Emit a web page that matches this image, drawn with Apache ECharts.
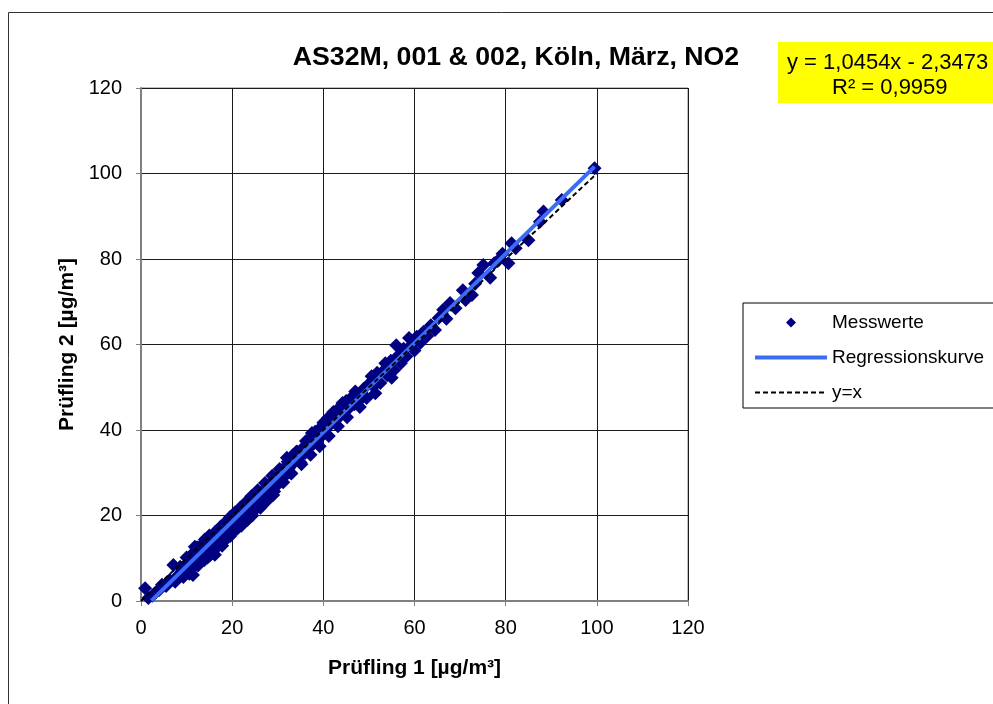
<!DOCTYPE html>
<html lang="de">
<head>
    <meta charset="UTF-8">
    <title>AS32M, 001 &amp; 002, Köln, März, NO2</title>
    <script src="https://cdn.jsdelivr.net/npm/echarts@6/dist/echarts.min.js"></script>
    <style type="text/css">
        html, body { margin: 0; padding: 0; background: #fff; }
        #chart { width: 993px; height: 704px; }
    </style>
</head>
<body>
<div id="chart"></div>
<script type="text/javascript">
    var messX = [0.9, 1.6, 2.5, 3.2, 4.0, 4.6, 5.5, 6.3, 7.1, 7.5, 8.2, 9.0, 9.6, 10.3, 10.8, 11.4, 11.8, 12.1, 12.5, 12.9,
        13.2, 13.6, 13.9, 14.2, 14.5, 14.8, 15.1, 15.4, 15.7, 16.0, 16.2, 16.5, 16.8, 17.1, 17.3, 17.6, 17.9, 18.2, 18.5, 18.7,
        19.0, 19.3, 19.6, 19.9, 20.2, 20.5, 20.8, 21.1, 21.4, 21.7, 22.0, 22.3, 22.6, 22.9, 23.2, 23.5, 23.8, 24.1, 24.4, 24.7,
        25.0, 25.4, 25.8, 26.2, 26.6, 27.0, 27.4, 27.8, 28.2, 28.6, 29.0, 29.4, 29.8, 30.2, 30.6, 31.0, 31.5, 32.0, 32.4, 32.8,
        33.3, 33.7, 34.2, 34.6, 35.0, 35.5, 36.0, 36.5, 37.0, 37.5, 38.0, 38.5, 39.0, 39.5, 40.0, 40.5, 41.0, 41.5, 42.0, 42.5,
        43.0, 43.5, 44.0, 44.5, 45.0, 45.5, 46.0, 46.8, 47.5, 48.2, 48.8, 49.5, 50.2, 51.0, 51.8, 52.5, 53.3, 54.0, 54.8, 55.5,
        56.0, 56.5, 57.0, 57.6, 58.2, 58.8, 59.4, 60.0, 60.5, 61.3, 62.0, 62.8, 63.6, 64.5, 65.3, 66.3, 67.0, 67.8, 69.0, 70.6,
        71.2, 72.6, 73.3, 74.0, 75.1, 76.6, 77.5, 78.5, 79.3, 80.6, 81.3, 82.2, 85.0, 87.5, 88.3, 92.3, 99.5,
        8.6, 9.3, 10.0, 10.6, 11.1, 11.6, 12.3, 12.7, 13.4, 13.8, 14.0, 14.6, 15.0, 15.6, 16.3, 16.7, 17.5, 17.8, 18.4, 18.9,
        19.5, 19.8, 20.6, 21.0, 21.8, 22.2, 23.0, 23.4, 24.2, 24.6, 25.6, 26.0, 27.2, 27.6, 28.8, 29.2, 30.4, 31.2, 32.2, 33.0,
        34.0, 35.2, 36.2, 37.2, 38.2, 39.2, 40.2, 41.2, 42.2, 43.2, 44.2, 45.2, 47.0, 48.0, 50.6, 51.4, 53.6, 55.0];
    var messY = [3.0, 0.7, 1.2, 2.0, 2.6, 3.8, 3.5, 4.9, 8.4, 4.5, 6.1, 7.0, 8.2, 7.6, 9.4, 6.1, 12.7, 9.8, 8.3, 11.4,
        10.1, 12.0, 9.6, 13.5, 11.8, 12.9, 10.7, 14.6, 13.1, 12.2, 10.8, 15.3, 14.0, 13.2, 16.4, 15.1, 13.8, 17.2, 15.9, 14.5,
        17.8, 16.6, 15.2, 18.6, 17.3, 19.4, 18.0, 16.9, 20.3, 19.0, 17.6, 21.2, 19.8, 22.0, 20.6, 19.4, 22.6, 21.1, 20.0, 23.5,
        22.1, 24.3, 22.9, 21.8, 25.3, 24.0, 26.5, 25.1, 27.3, 26.0, 24.8, 28.4, 27.0, 29.5, 28.3, 30.7, 29.2, 33.5, 31.0, 30.0,
        34.1, 32.5, 35.0, 33.6, 32.4, 35.8, 34.6, 37.2, 35.9, 39.3, 37.0, 38.6, 40.1, 38.4, 41.7, 40.0, 42.8, 41.2, 43.6, 42.0,
        44.7, 43.1, 45.6, 44.2, 46.8, 45.0, 47.4, 46.0, 48.3, 47.2, 49.6, 47.5, 51.0, 50.2, 53.4, 51.0, 54.0, 52.8, 56.2, 54.0,
        59.8, 57.5, 55.6, 59.0, 57.2, 61.5, 60.0, 58.6, 61.8, 60.4, 63.0, 62.0, 64.5, 63.4, 66.2, 68.1, 66.0, 69.7, 68.5, 72.7,
        70.4, 71.6, 74.2, 76.7, 78.6, 75.6, 79.0, 79.8, 81.2, 79.0, 83.7, 82.5, 84.4, 88.7, 91.1, 93.8, 101.2,
        8.0, 5.6, 10.2, 6.4, 10.9, 8.0, 12.6, 9.0, 13.2, 10.6, 14.4, 10.2, 15.3, 11.4, 16.2, 12.6, 17.4, 12.9, 18.3, 15.0,
        19.6, 16.0, 20.7, 17.5, 21.9, 18.4, 23.1, 19.0, 24.5, 20.9, 25.9, 22.4, 27.6, 23.4, 29.3, 25.6, 30.9, 27.8, 32.6, 29.8,
        34.8, 32.0, 37.4, 34.2, 39.6, 36.2, 41.0, 38.6, 44.2, 40.9, 46.3, 43.0, 49.0, 45.4, 52.6, 48.6, 55.6, 52.2];

    // Regressionskurve (Endpunkte) und Winkelhalbierende y=x
    var regX = [2.3, 99.5];
    var regY = [0.1, 101.6];
    var diagX = [0, 100];
    var diagY = [0, 100];

    var axisTicks = [0, 20, 40, 60, 80, 100, 120];
    var gleichung = ['y = 1,0454x - 2,3473', 'R² = 0,9959'];

    function paare(xs, ys) {
        var out = [];
        for (var i = 0; i < xs.length; i++) {
            out.push([xs[i], ys[i]]);
        }
        return out;
    }

    var font = '"Liberation Sans", Arial, sans-serif';
    var blau = '#3a6cf4';
    var myChart = echarts.init(document.getElementById('chart'));

    var achse = {
        type: 'value',
        min: axisTicks[0],
        max: axisTicks[axisTicks.length - 1],
        interval: axisTicks[1] - axisTicks[0],
        axisLine: { show: true, lineStyle: { color: '#808080', width: 2 } },
        axisTick: { show: true, inside: false, length: 5, lineStyle: { color: '#808080', width: 1 } },
        splitLine: { show: true, lineStyle: { color: '#1a1a1a', width: 1 } },
        axisLabel: { color: '#000', fontSize: 20, fontFamily: font },
        nameLocation: 'middle',
        nameTextStyle: { color: '#000', fontSize: 21, fontWeight: 'bold', fontFamily: font }
    };

    // Legendensymbol für die Messwerte: kleine Raute mittig im 72 px breiten Feld
    var rauteIcon = 'path://M0,5L0.01,5L0,5.01Z M36,0L41,5L36,10L31,5Z M72,5L71.99,5L72,4.99Z';
    var ohneSymbol = { color: 'rgba(0,0,0,0)', borderWidth: 0, opacity: 0 };
    var strich = { color: '#000', width: 2, type: [5, 3] };

    var option = {
        animation: false,
        backgroundColor: '#fff',
        title: {
            text: 'AS32M, 001 & 002, Köln, März, NO2',
            left: 511,
            top: 39,
            textAlign: 'center',
            textStyle: { color: '#000', fontSize: 26.7, fontWeight: 'bold', fontFamily: font }
        },
        grid: {
            left: 141,
            top: 88,
            right: 305,
            bottom: 103,
            show: true,
            borderColor: '#808080',
            borderWidth: 1,
            backgroundColor: 'transparent'
        },
        legend: {
            orient: 'vertical',
            left: 743,
            top: 303,
            padding: [10, 60, 6, 10],
            itemGap: 16,
            itemWidth: 72,
            itemHeight: 10,
            backgroundColor: '#fff',
            borderColor: '#000',
            borderWidth: 1,
            textStyle: { color: '#000', fontSize: 19, fontFamily: font },
            data: [
                { name: 'Messwerte', icon: rauteIcon },
                { name: 'Regressionskurve', itemStyle: ohneSymbol, lineStyle: { color: blau, width: 4 } },
                { name: 'y=x', itemStyle: ohneSymbol, lineStyle: strich }
            ]
        },
        xAxis: Object.assign({}, achse, {
            name: 'Prüfling 1 [µg/m³]',
            nameGap: 57,
            axisLabel: Object.assign({}, achse.axisLabel, { margin: 17 })
        }),
        yAxis: Object.assign({}, achse, {
            name: 'Prüfling 2 [µg/m³]',
            nameGap: 62,
            axisLabel: Object.assign({}, achse.axisLabel, { margin: 19 })
        }),
        graphic: [
            {
                type: 'rect',
                shape: { x: 8.5, y: 12.5, width: 1100, height: 800 },
                style: { fill: 'none', stroke: '#333', lineWidth: 1 },
                silent: true,
                z: -10
            },
            {
                type: 'rect',
                shape: { x: 778, y: 42, width: 230, height: 61 },
                style: { fill: '#ffff00' },
                z: 10
            },
            {
                type: 'text',
                left: 787,
                top: 52,
                style: { text: gleichung[0], fill: '#000', font: '22px ' + font },
                z: 11
            },
            {
                type: 'text',
                left: 832,
                top: 77,
                style: { text: gleichung[1], fill: '#000', font: '22px ' + font },
                z: 11
            }
        ],
        series: [
            {
                name: 'Messwerte',
                type: 'scatter',
                symbol: 'diamond',
                symbolSize: 14,
                itemStyle: { color: '#000080', opacity: 1 },
                data: paare(messX, messY),
                z: 2
            },
            {
                name: 'Regressionskurve',
                type: 'line',
                showSymbol: false,
                symbol: 'none',
                lineStyle: { color: blau, width: 4 },
                itemStyle: { color: blau },
                data: paare(regX, regY),
                z: 3
            },
            {
                name: 'y=x',
                type: 'line',
                showSymbol: false,
                symbol: 'none',
                lineStyle: strich,
                itemStyle: { color: '#000' },
                data: paare(diagX, diagY),
                z: 4
            }
        ]
    };
    myChart.setOption(option);
</script>
</body>
</html>
